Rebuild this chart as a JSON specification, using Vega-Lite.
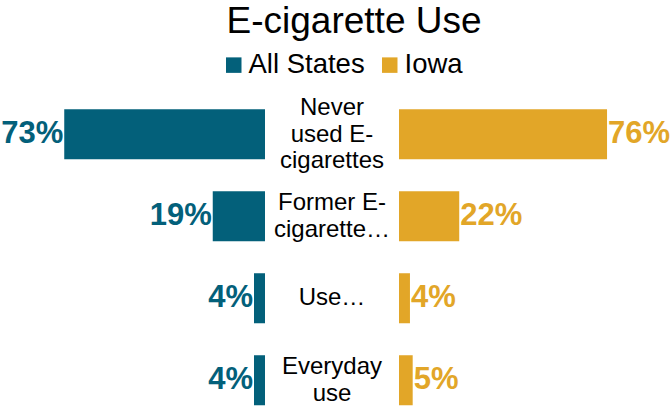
{
  "$schema": "https://vega.github.io/schema/vega-lite/v6.json",
  "padding": {"top": 3, "left": 0, "right": 0, "bottom": 0},
  "background": "white",
  "spacing": 0,
  "bounds": "flush",
  "title": {"text": "E-cigarette Use", "fontSize": 37, "fontWeight": "normal", "font": "Liberation Sans", "color": "#000000", "anchor": "middle", "frame": "bounds", "dx": 19, "offset": 1},
  "data": {"values": [
    {"category": "Never\nused E-\ncigarettes", "group": "All States", "value": 0.73},
    {"category": "Former E-\ncigarette…", "group": "All States", "value": 0.19},
    {"category": "Use…", "group": "All States", "value": 0.04},
    {"category": "Everyday\nuse", "group": "All States", "value": 0.04},
    {"category": "Never\nused E-\ncigarettes", "group": "Iowa", "value": 0.76},
    {"category": "Former E-\ncigarette…", "group": "Iowa", "value": 0.22},
    {"category": "Use…", "group": "Iowa", "value": 0.04},
    {"category": "Everyday\nuse", "group": "Iowa", "value": 0.05}
  ]},
  "hconcat": [
    {
      "width": 265,
      "height": {"step": 82},
      "transform": [{"filter": "datum.group === 'All States'"}],
      "encoding": {
        "y": {"field": "category", "type": "nominal", "axis": null, "scale": {"type": "band", "domain": ["Never\nused E-\ncigarettes", "Former E-\ncigarette…", "Use…", "Everyday\nuse"], "paddingInner": 0.39, "paddingOuter": 0.41, "align": 1}},
        "x": {"field": "value", "type": "quantitative", "axis": null, "scale": {"domain": [0, 0.9636], "reverse": true, "nice": false, "zero": true}}
      },
      "layer": [
        {"mark": {"type": "text", "align": "right", "baseline": "middle", "dx": -1, "fontSize": 31, "fontWeight": "bold", "font": "Liberation Sans", "fill": "#03607A"},
         "encoding": {"text": {"field": "value", "type": "quantitative", "format": ".0%"}}},
        {"mark": {"type": "bar", "opacity": 1},
         "encoding": {"color": {"field": "group", "type": "nominal", "scale": {"domain": ["All States", "Iowa"], "range": ["#03607A", "#E2A628"]},
           "legend": {"orient": "none", "legendX": 220, "legendY": 9, "direction": "horizontal", "symbolType": "square", "symbolSize": 240, "symbolStrokeWidth": 0, "symbolOpacity": 1, "labelFontSize": 27.5, "labelFont": "Liberation Sans", "labelColor": "#000000", "labelOffset": 1, "columnPadding": 11, "padding": 0, "title": null}}}}
      ]
    },
    {
      "width": 134,
      "height": {"step": 82},
      "transform": [{"filter": "datum.group === 'All States'"}],
      "encoding": {
        "y": {"field": "category", "type": "nominal", "axis": null, "scale": {"type": "band", "domain": ["Never\nused E-\ncigarettes", "Former E-\ncigarette…", "Use…", "Everyday\nuse"], "paddingInner": 0.39, "paddingOuter": 0.41, "align": 1}},
        "text": {"field": "category", "type": "nominal"}
      },
      "layer": [
        {"transform": [{"filter": "datum.category === 'Never\\nused E-\\ncigarettes'"}],
         "mark": {"type": "text", "align": "center", "baseline": "middle", "dy": -26, "fontSize": 24, "lineHeight": 26.5, "lineBreak": "\n", "font": "Liberation Sans", "fill": "#000000"}},
        {"transform": [{"filter": "datum.category === 'Former E-\\ncigarette…' || datum.category === 'Everyday\\nuse'"}],
         "mark": {"type": "text", "align": "center", "baseline": "middle", "dy": -13, "fontSize": 24, "lineHeight": 26.5, "lineBreak": "\n", "font": "Liberation Sans", "fill": "#000000"}},
        {"transform": [{"filter": "datum.category === 'Use…'"}],
         "mark": {"type": "text", "align": "center", "baseline": "middle", "fontSize": 24, "lineHeight": 26.5, "lineBreak": "\n", "font": "Liberation Sans", "fill": "#000000"}}
      ]
    },
    {
      "width": 271,
      "height": {"step": 82},
      "transform": [{"filter": "datum.group === 'Iowa'"}],
      "encoding": {
        "y": {"field": "category", "type": "nominal", "axis": null, "scale": {"type": "band", "domain": ["Never\nused E-\ncigarettes", "Former E-\ncigarette…", "Use…", "Everyday\nuse"], "paddingInner": 0.39, "paddingOuter": 0.41, "align": 1}},
        "x": {"field": "value", "type": "quantitative", "axis": null, "scale": {"domain": [0, 0.99], "nice": false, "zero": true}}
      },
      "layer": [
        {"mark": {"type": "text", "align": "left", "baseline": "middle", "dx": 1, "fontSize": 31, "fontWeight": "bold", "font": "Liberation Sans", "fill": "#E2A628"},
         "encoding": {"text": {"field": "value", "type": "quantitative", "format": ".0%"}}},
        {"mark": {"type": "bar", "opacity": 1},
         "encoding": {"color": {"field": "group", "type": "nominal", "scale": {"domain": ["All States", "Iowa"], "range": ["#03607A", "#E2A628"]},
           "legend": {"orient": "none", "legendX": 220, "legendY": 9, "direction": "horizontal", "symbolType": "square", "symbolSize": 240, "symbolStrokeWidth": 0, "symbolOpacity": 1, "labelFontSize": 27.5, "labelFont": "Liberation Sans", "labelColor": "#000000", "labelOffset": 1, "columnPadding": 11, "padding": 0, "title": null}}}}
      ]
    }
  ],
  "config": {"view": {"stroke": null}, "font": "Liberation Sans"}
}
